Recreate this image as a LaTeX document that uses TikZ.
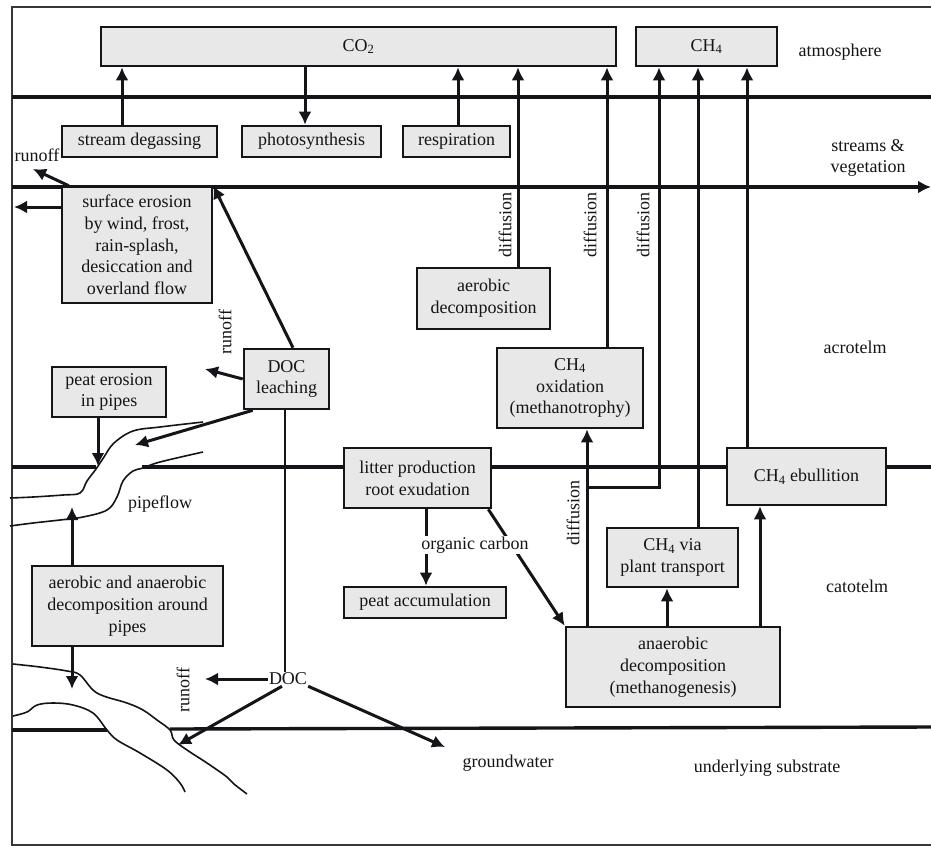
\documentclass[tikz,border=0pt]{standalone}
\usepackage{fontspec}
\setmainfont{Liberation Serif}
\usetikzlibrary{arrows.meta}
\definecolor{boxfill}{RGB}{232,232,232}
\definecolor{ink}{RGB}{20,20,25}
\tikzset{
  every node/.style={font=\fontsize{18}{21.7}\selectfont, text=ink},
  proc/.style={draw=ink, fill=boxfill, line width=2.6pt, inner sep=0pt, align=center},
  lbl/.style={inner sep=1pt, align=center},
  vlbl/.style={inner sep=1pt, rotate=90},
  layer/.style={draw=ink, line width=3.4pt},
  arr/.style={draw=ink, line width=3pt, -{Latex[length=13pt,width=13pt]}},
  thinline/.style={draw=ink, line width=2pt},
  pipe/.style={draw=ink, line width=1.6pt},
}
\begin{document}
\begin{tikzpicture}[x=1pt,y=-1pt]
\useasboundingbox (0,0) rectangle (931,849);
\fill[white] (0,0) rectangle (931,849);
% frame
\draw[draw=ink!85, line width=2.4pt] (960,7) -- (12,7) -- (12,845) -- (960,845);
% layer lines
\draw[layer] (12,97) -- (931,97);
\draw[layer, -{Latex[length=13pt,width=13pt]}] (12,187) -- (931,187);
\draw[layer] (12,467) -- (96,467);
\draw[layer] (142,467) -- (931,467);
\draw[layer] (12,730) -- (107,730);
\draw[layer] (170,729) -- (931,727);
% pipes
\draw[pipe] plot[smooth, tension=0.6] coordinates {(203,422) (160,427) (133,431) (114,443) (104,457) (96,469) (87,481) (80,493) (63,495) (33,497) (10,498)};
\draw[pipe] plot[smooth, tension=0.6] coordinates {(203,452) (160,462) (143,468) (133,471) (123,481) (117,497) (107,510) (83,517) (60,520) (33,523) (10,526)};
\draw[pipe] plot[smooth, tension=0.6] coordinates {(13,664) (40,667) (67,671) (80,675) (97,693) (127,703) (143,710) (157,720) (170,730) (174,740) (187,750) (207,763) (227,777) (234,784) (247,794)};
\draw[pipe] plot[smooth, tension=0.6] coordinates {(13,716) (27,712) (37,705) (53,703) (73,705) (93,713) (107,730) (117,740) (140,753) (167,770) (180,783) (185,792)};
% boxes
\node[proc, minimum width=515pt, minimum height=39pt] (co2) at (358.5,46.5) {CO\textsubscript{2}};
\node[proc, minimum width=141pt, minimum height=39pt] (ch4top) at (706.5,46.5) {CH\textsubscript{4}};
\node[proc, minimum width=155pt, minimum height=31pt] (sdeg) at (139.5,141.5) {stream degassing};
\node[proc, minimum width=139pt, minimum height=31pt] (photo) at (311.5,141.5) {photosynthesis};
\node[proc, minimum width=107pt, minimum height=31pt] (resp) at (456.5,141.5) {respiration};
\node[proc, minimum width=150pt, minimum height=116pt] (surf) at (137,245) {surface erosion\\by wind, frost,\\rain-splash,\\desiccation and\\overland flow};
\node[proc, minimum width=133pt, minimum height=61pt] (aerob) at (483.5,298.5) {aerobic\\decomposition};
\node[proc, minimum width=85pt, minimum height=60pt] (docl) at (286.5,379) {DOC\\leaching};
\node[proc, minimum width=146pt, minimum height=80pt] (ch4ox) at (570,388) {CH\textsubscript{4}\\oxidation\\(methanotrophy)};
\node[proc, minimum width=114pt, minimum height=50pt] (peatp) at (109,392) {peat erosion\\in pipes};
\node[proc, minimum width=147pt, minimum height=60pt] (litter) at (417.5,478) {litter production\\root exudation};
\node[proc, minimum width=159pt, minimum height=57pt] (ebul) at (806.5,476.5) {CH\textsubscript{4} ebullition};
\node[proc, minimum width=131pt, minimum height=59pt] (plant) at (672.5,557.5) {CH\textsubscript{4} via\\plant transport};
\node[proc, minimum width=162pt, minimum height=31pt] (peatacc) at (425,602.5) {peat accumulation};
\node[proc, minimum width=191pt, minimum height=80pt] (pipes) at (127.5,606) {aerobic and anaerobic\\decomposition around\\pipes};
\node[proc, minimum width=214pt, minimum height=80pt] (anaer) at (673,667) {anaerobic\\decomposition\\(methanogenesis)};
\node[lbl] (doc) at (288,679) {DOC};
% free-end coordinates
\coordinate (r1) at (33,169);
\coordinate (fl1) at (14,207);
\coordinate (r2) at (205,369);
\coordinate (p1) at (135,445);
\coordinate (p2) at (98,466);
\coordinate (p3) at (72,507);
\coordinate (p4) at (72,689);
\coordinate (r3) at (205,679);
\coordinate (p5) at (178,745);
\coordinate (gw) at (445,747);
\coordinate (br) at (587,487);
% connectors
\draw[arr] (sdeg.north -| 122,0) -- (co2.south -| 122,0);
\draw[arr] (co2.south -| 305,0) -- (photo.north -| 305,0);
\draw[arr] (resp.north -| 458,0) -- (co2.south -| 458,0);
\draw[arr] (aerob.north -| 518,0) -- (co2.south -| 518,0);
\draw[arr] (ch4ox.north -| 607,0) -- (co2.south -| 607,0);
\draw[arr] (br) -- (659,487) -- (ch4top.south -| 659,0);
\draw[arr] (plant.north -| 698,0) -- (ch4top.south -| 698,0);
\draw[arr] (ebul.north -| 747,0) -- (ch4top.south -| 747,0);
\draw[arr] ([xshift=8pt]surf.north west) -- (r1);
\draw[arr] (surf.west |- fl1) -- (fl1);
\draw[arr] (docl.north -| 293,0) -- (surf.north east);
\draw[arr] (docl.west) -- (r2);
\draw[arr] ([xshift=10pt]docl.south west) -- (p1);
\draw[arr] (peatp.south -| p2) -- (p2);
\draw[arr] (pipes.north -| p3) -- (p3);
\draw[arr] (pipes.south -| p4) -- (p4);
\draw[thinline] (docl.south -| 285,0) -- (doc.north -| 285,0);
\draw[arr] (doc.west) -- (r3);
\draw[arr] ([xshift=-6pt]doc.south) -- (p5);
\draw[arr] (doc.south east) -- (gw);
\draw[arr] (litter.south -| 426,0) -- (peatacc.north -| 426,0);
\draw[arr] ([xshift=-4pt]litter.south east) -- (anaer.north west);
\draw[arr] (anaer.north -| br) -- (ch4ox.south -| br);
\draw[arr] (anaer.north -| 667,0) -- (plant.south -| 667,0);
\draw[arr] (anaer.north -| 760,0) -- (ebul.south -| 760,0);
% labels
\node[lbl, fill=white] (oc) at (475,545) {organic carbon};
\node[lbl] (runoff1) at (37,155) {runoff};
\node[vlbl] (runoff2) at (225,332) {runoff};
\node[vlbl] (runoff3) at (183,690) {runoff};
\node[vlbl] (dif1) at (505,225) {diffusion};
\node[vlbl] (dif2) at (590,225) {diffusion};
\node[vlbl] (dif3) at (643,225) {diffusion};
\node[vlbl] (dif4) at (573,513) {diffusion};
\node[lbl] (atm) at (840,52) {atmosphere};
\node[lbl] (sv) at (868,158) {streams \&\\vegetation};
\node[lbl] (acro) at (855,347) {acrotelm};
\node[lbl] (cato) at (857,586) {catotelm};
\node[lbl] (pf) at (160,504) {pipeflow};
\node[lbl] (gwl) at (508,763) {groundwater};
\node[lbl] (us) at (767,768) {underlying substrate};
\end{tikzpicture}
\end{document}
